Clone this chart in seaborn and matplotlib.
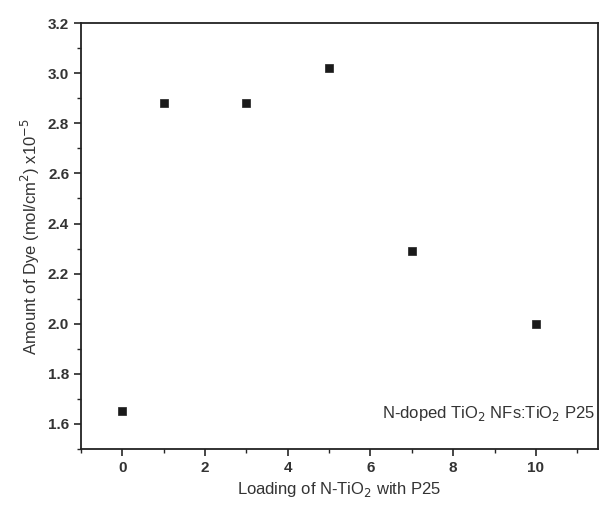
import numpy as np
import pandas as pd
import seaborn as sns
import matplotlib
matplotlib.use("Agg")
import matplotlib.pyplot as plt
from matplotlib.ticker import MultipleLocator

# data
loading = [0, 1, 3, 5, 7, 10]
dye_amount = [1.65, 2.88, 2.88, 3.02, 2.29, 2.00]

df = pd.DataFrame({'loading': loading, 'dye': dye_amount})

sns.set_style('ticks')
plt.rcParams['font.family'] = ['Liberation Sans', 'DejaVu Sans']

fig = plt.figure(figsize=(6.04, 5.12), dpi=100)
ax = fig.add_axes([0.134, 0.123, 0.856, 0.832])

sns.scatterplot(data=df, x='loading', y='dye', marker='s', s=36,
                color='#1a1a1a', edgecolor='#1a1a1a', ax=ax)

ax.set_xlim(-1, 11.5)
ax.set_ylim(1.5, 3.2)
ax.xaxis.set_major_locator(MultipleLocator(2))
ax.xaxis.set_minor_locator(MultipleLocator(1))
ax.yaxis.set_major_locator(MultipleLocator(0.2))
ax.yaxis.set_minor_locator(MultipleLocator(0.1))
ax.yaxis.set_major_formatter(matplotlib.ticker.FormatStrFormatter('%.1f'))
ax.tick_params(which='major', direction='out', length=5, width=1.2, labelsize=11)
ax.tick_params(which='minor', direction='out', length=3, width=1)
for lbl in ax.get_xticklabels() + ax.get_yticklabels():
    lbl.set_fontweight('bold')
    lbl.set_color('#333333')
for sp in ax.spines.values():
    sp.set_linewidth(1.3)
    sp.set_color('#222222')

ax.set_xlabel('Loading of N-TiO$_2$ with P25', fontsize=12, color='#333333')
ax.set_ylabel('Amount of Dye (mol/cm$^2$) x10$^{-5}$', fontsize=12, color='#333333')
ax.text(0.995, 0.06, 'N-doped TiO$_2$ NFs:TiO$_2$ P25', transform=ax.transAxes,
        ha='right', va='bottom', fontsize=12, color='#333333')

fig.savefig('out.png', dpi=100)
